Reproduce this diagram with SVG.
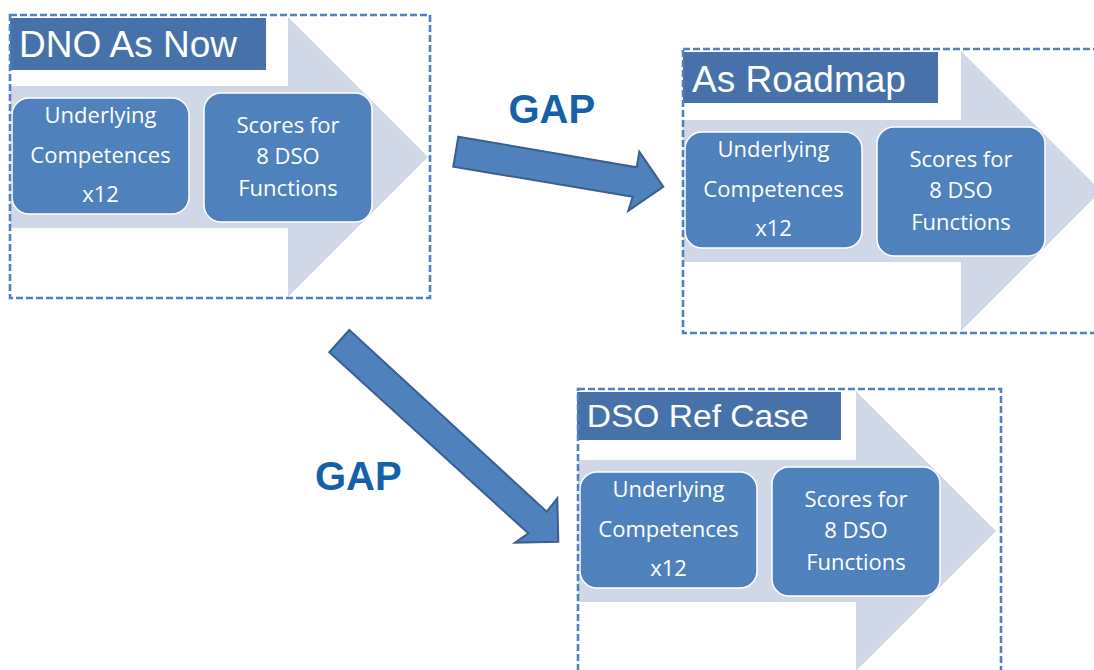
<svg xmlns="http://www.w3.org/2000/svg" width="1094" height="670" viewBox="0 0 1094 670">
<defs>
<style>
.bg{fill:#ffffff}
.big{fill:#D0D8E8}
.bar{fill:#4672A9}
.title{font-family:"Liberation Sans",Arial,sans-serif;font-size:37px;fill:#ffffff}
.box{fill:#4F81BD;stroke:#ffffff;stroke-width:1.5}
.bt{font-family:"Open Sans","Noto Sans",sans-serif;font-size:22px;fill:#ffffff;text-anchor:middle}
.frame{fill:none;stroke:#5080C0;stroke-width:2.6;stroke-dasharray:7 3}
.gap{font-family:"Liberation Sans",Arial,sans-serif;font-size:40px;font-weight:bold;fill:#1560A8}
.conn{fill:#4F81BD;stroke:#3A5F8E;stroke-width:2;stroke-linejoin:miter}
</style>
</defs>
<rect class="bg" x="0" y="0" width="1094" height="670"/>

<g id="node-dno-as-now">
<path class="big" d="M10 86 H288 V17 L428 157 L288 297 V228 H10 Z"/>
<rect class="bar" x="10" y="18" width="256" height="52"/>
<text class="title" x="19" y="57">DNO As Now</text>
<rect class="box" x="12" y="98" width="177" height="116" rx="17"/>
<text class="bt" x="100.5" y="123">Underlying</text>
<text class="bt" x="100.5" y="163">Competences</text>
<text class="bt" x="100.5" y="202">x12</text>
<rect class="box" x="204" y="93" width="168" height="129" rx="17"/>
<text class="bt" x="288" y="133">Scores for</text>
<text class="bt" x="288" y="164">8 DSO</text>
<text class="bt" x="288" y="196">Functions</text>
<rect class="frame" x="10" y="15" width="420" height="283"/>
</g>

<g id="node-as-roadmap" transform="translate(673,34)">
<path class="big" d="M10 86 H288 V17 L428 157 L288 297 V228 H10 Z"/>
<rect class="bar" x="10" y="18" width="255" height="51"/>
<text class="title" x="19" y="57.5">As Roadmap</text>
<rect class="box" x="12" y="98" width="177" height="116" rx="17"/>
<text class="bt" x="100.5" y="123">Underlying</text>
<text class="bt" x="100.5" y="163">Competences</text>
<text class="bt" x="100.5" y="202">x12</text>
<rect class="box" x="204" y="93" width="168" height="129" rx="17"/>
<text class="bt" x="288" y="133">Scores for</text>
<text class="bt" x="288" y="164">8 DSO</text>
<text class="bt" x="288" y="196">Functions</text>
<rect class="frame" x="10" y="15" width="420" height="284"/>
</g>

<g id="node-dso-ref-case" transform="translate(568,374)">
<path class="big" d="M10 86 H288 V17 L428 157 L288 297 V228 H10 Z"/>
<rect class="bar" x="9" y="18" width="264" height="48"/>
<text class="title" x="18.7" y="53" style="font-size:31px" textLength="222" lengthAdjust="spacingAndGlyphs">DSO Ref Case</text>
<rect class="box" x="12" y="98" width="177" height="116" rx="17"/>
<text class="bt" x="100.5" y="123">Underlying</text>
<text class="bt" x="100.5" y="163">Competences</text>
<text class="bt" x="100.5" y="202">x12</text>
<rect class="box" x="204" y="93" width="168" height="129" rx="17"/>
<text class="bt" x="288" y="133">Scores for</text>
<text class="bt" x="288" y="164">8 DSO</text>
<text class="bt" x="288" y="196">Functions</text>
<rect class="frame" x="10" y="15" width="423" height="283"/>
</g>

<g id="connectors">
<polygon class="conn" points="458.3,136.7 636.7,167.3 639.3,151.7 663.3,186.7 628.3,210.7 632.7,196.7 453.3,166.7"/>
<text class="gap" x="508.5" y="123.3">GAP</text>
<polygon class="conn" points="349.3,330 546.7,511.7 557.3,498.3 558.3,541.7 515,542.7 528.3,533.3 329.3,352.3"/>
<text class="gap" x="315" y="490">GAP</text>
</g>
</svg>
